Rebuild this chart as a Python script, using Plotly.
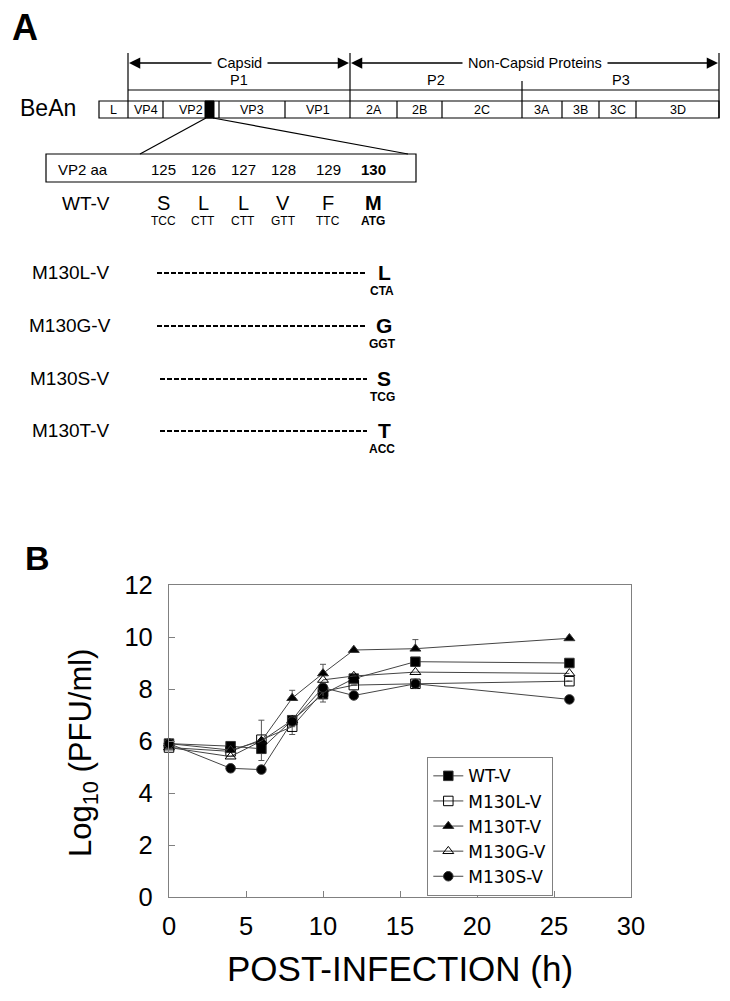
import plotly.graph_objects as go

# ---------------- panel B : growth curves ----------------
hours = [0, 4, 6, 8, 10, 12, 16, 26]
wt_v = [5.9, 5.8, 5.7, 6.8, 7.8, 8.4, 9.05, 9.0]
m130l_v = [5.75, 5.6, 6.05, 6.55, 7.9, 8.15, 8.2, 8.3]
m130t_v = [5.9, 5.65, 6.0, 7.65, 8.6, 9.5, 9.55, 9.95]
m130g_v = [5.75, 5.4, 6.0, 6.8, 8.35, 8.5, 8.65, 8.6]
m130s_v = [5.9, 4.95, 4.9, 6.75, 8.05, 7.75, 8.2, 7.6]

# error bars (upper / lower), None = no bar
wt_err_up = [None, None, None, None, None, None, 0.15, None]
wt_err_dn = [None, None, 0.45, None, None, None, 0, None]
l_err_up = [None, None, 0.75, 0, 0, None, None, None]
l_err_dn = [None, None, 0, 0.3, 0.4, None, None, None]
t_err_up = [None, None, None, 0.3, 0.35, None, 0.35, None]
t_err_dn = [None, None, None, 0, 0, None, 0, None]

# ---------------- panel A : genome map ----------------
genes = ["L", "VP4", "VP2", "VP3", "VP1", "2A", "2B", "2C", "3A", "3B", "3C", "3D"]
gene_edges = [99, 128, 163, 219, 285, 350, 397, 442, 522, 562, 599, 636, 719]
regions = ["P1", "P2", "P3"]
region_edges = [128, 350, 522, 719]
residues = ["125", "126", "127", "128", "129", "130"]
wt_aa = ["S", "L", "L", "V", "F", "M"]
wt_codons = ["TCC", "CTT", "CTT", "GTT", "TTC", "ATG"]
mutants = ["M130L-V", "M130G-V", "M130S-V", "M130T-V"]
mut_aa = ["L", "G", "S", "T"]
mut_codons = ["CTA", "GGT", "TCG", "ACC"]

FONT = "Liberation Sans, Arial, sans-serif"
PAD = 8                      # page body margin
W, H = 730 - PAD, 1001 - PAD

def px(x):
    return (x - PAD) / W

def py(y):
    return 1 - (y - PAD) / H

fig = go.Figure()

series = [
    ("WT-V", wt_v, "square", wt_err_up, wt_err_dn),
    ("M130L-V", m130l_v, "square-open", l_err_up, l_err_dn),
    ("M130T-V", m130t_v, "triangle-up", t_err_up, t_err_dn),
    ("M130G-V", m130g_v, "triangle-up-open", None, None),
    ("M130S-V", m130s_v, "circle", None, None),
]
for name, vals, sym, up, dn in series:
    err = None
    if up is not None:
        err = dict(type="data", array=up, arrayminus=dn, symmetric=False,
                   width=3, thickness=1, color="#555")
    fig.add_trace(go.Scatter(
        x=hours, y=vals, name=name, mode="lines+markers",
        line=dict(color="#444", width=1),
        marker=dict(symbol=sym, size=9.5, color="black", line=dict(color="#333", width=1)),
        error_y=err, cliponaxis=False,
    ))

# dummy trace so the diagram subplot exists
fig.add_trace(go.Scatter(x=[None], y=[None], xaxis="x2", yaxis="y2",
                         showlegend=False, hoverinfo="skip"))

shapes = []
ann = []
def line(x0, y0, x1, y1, w=1.2, dash=None, color="black"):
    d = dict(type="line", xref="x2", yref="y2", x0=x0, y0=y0, x1=x1, y1=y1,
             line=dict(color=color, width=w))
    if dash:
        d["line"]["dash"] = dash
    shapes.append(d)

def text(x, y, s, size, bold=False, bg=None, **kw):
    a = dict(xref="x2", yref="y2", x=x, y=y, showarrow=False,
             text=f"<b>{s}</b>" if bold else s,
             font=dict(family=FONT, size=size, color="black"),
             xanchor="center", yanchor="middle")
    if bg:
        a["bgcolor"] = bg
    a.update(kw)
    ann.append(a)

box_top, box_bot = 101, 118
# genome box and segments
shapes.append(dict(type="rect", xref="x2", yref="y2", x0=gene_edges[0], x1=gene_edges[-1],
                   y0=box_top, y1=box_bot, line=dict(color="black", width=1.2)))
for e in gene_edges[1:-1]:
    line(e, box_top, e, box_bot)
label_x = {"VP2": 191}
for i, g in enumerate(genes):
    cx = label_x.get(g, (gene_edges[i] + gene_edges[i + 1]) / 2)
    text(cx, (box_top + box_bot) / 2 + 0.5, g, 12.5)
# black mutation block inside VP2
shapes.append(dict(type="rect", xref="x2", yref="y2", x0=205, x1=214, y0=box_top, y1=box_bot,
                   fillcolor="black", line=dict(color="black", width=1)))

# polyprotein bar and region bracket lines
line(region_edges[0], 90, region_edges[-1], 90)
line(region_edges[0], 53, region_edges[0], box_top)
line(region_edges[1], 53, region_edges[1], box_top)
line(region_edges[3], 53, region_edges[3], box_bot)
line(region_edges[2], 81, region_edges[2], box_top)
for i, r in enumerate(regions):
    text((region_edges[i] + region_edges[i + 1]) / 2, 80, r, 14.5)

# capsid / non-capsid arrows
for lo, hi, lab in [(128, 350, "Capsid"), (350, 719, "Non-Capsid Proteins")]:
    mid = (lo + hi) / 2
    for tip in (lo, hi):
        ann.append(dict(xref="x2", yref="y2", axref="x2", ayref="y2",
                        x=tip + (1 if tip == lo else -1), y=63, ax=mid, ay=63,
                        showarrow=True, arrowhead=2, arrowsize=1.5, arrowwidth=1.5,
                        arrowcolor="black", text=""))
    text(mid, 63, " " + lab + " ", 14.5, bg="white")

# panel letter A, anchored at its top so it stays inside the page
ann.append(dict(xref="x2", yref="y2", x=25, y=PAD, text="<b>A</b>", showarrow=False,
                font=dict(family=FONT, size=36, color="black"),
                xanchor="center", yanchor="top", yshift=3))
text(48, 108, "BeAn", 23)

# zoom lines and expanded box
line(206, box_bot, 140, 154)
line(213, box_bot, 408, 154)
shapes.append(dict(type="rect", xref="x2", yref="y2", x0=46, x1=416, y0=154, y1=182,
                   line=dict(color="black", width=1.2)))
text(83, 169, "VP2 aa", 15)
cols = [163, 203, 243, 283, 328, 373]
for i, c in enumerate(cols):
    last = i == len(cols) - 1
    text(c, 169, residues[i], 15, bold=last)
    text(c, 203, wt_aa[i], 20, bold=last)
    text(c, 221, wt_codons[i], 12, bold=last)
text(86, 203, "WT-V", 19)

rows = [272, 325, 378, 430]
for i, m in enumerate(mutants):
    y = rows[i]
    text(70, y, m, 19)
    line(157 if i < 2 else 160, y + 1, 367, y + 1, w=1.8, dash="5px,2px")
    text(384, y, mut_aa[i], 21, bold=True)
    text(382, y + 19, mut_codons[i], 12, bold=True)

# panel B labels
ann.append(dict(xref="paper", yref="paper", x=px(37), y=py(558), text="<b>B</b>",
                showarrow=False, font=dict(family=FONT, size=34, color="black"),
                xanchor="center", yanchor="middle"))
ann.append(dict(xref="paper", yref="paper", x=px(83), y=py(753),
                text="Log<sub>10</sub> (PFU/ml)", textangle=-90, showarrow=False,
                font=dict(family=FONT, size=31, color="black"),
                xanchor="center", yanchor="middle"))
ann.append(dict(xref="paper", yref="paper", x=px(400), y=py(968),
                text="POST-INFECTION (h)", showarrow=False,
                font=dict(family=FONT, size=35, color="black"),
                xanchor="center", yanchor="middle"))

axis_common = dict(showline=True, linecolor="#808080", linewidth=1.3, mirror=True,
                   ticks="inside", ticklen=6, tickcolor="#808080", showgrid=False,
                   zeroline=False, automargin=False,
                   tickfont=dict(family=FONT, size=25.5, color="black"))

fig.update_layout(
    width=W, height=H, margin=dict(l=0, r=0, t=0, b=0),
    paper_bgcolor="white", plot_bgcolor="rgba(0,0,0,0)",
    shapes=shapes, annotations=ann,
    xaxis=dict(domain=[px(169), px(631)], range=[0, 30], tickvals=[0, 5, 10, 15, 20, 25, 30],
               ticklabelstandoff=6, anchor="y", **axis_common),
    yaxis=dict(domain=[py(897), py(585)], range=[0, 12],
               tickvals=[0, 2, 4, 6, 8, 10, 12], ticklabelstandoff=10, anchor="x", **axis_common),
    xaxis2=dict(domain=[0, 1], range=[PAD, 730], visible=False, anchor="y2", fixedrange=True),
    yaxis2=dict(domain=[0, 1], range=[1001, PAD], visible=False, anchor="x2", fixedrange=True),
    legend=dict(x=px(427), y=py(757), xanchor="left", yanchor="top",
                bgcolor="white", bordercolor="#808080", borderwidth=1.3,
                font=dict(family="DejaVu Sans, Verdana, sans-serif", size=17, color="black"),
                tracegroupgap=0),
    showlegend=True,
)

fig.write_html("out.html")
